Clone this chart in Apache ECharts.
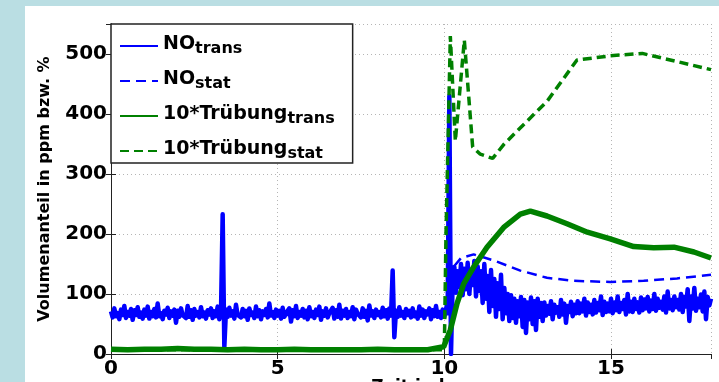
<!DOCTYPE html>
<html>
<head>
<meta charset="utf-8">
<script src="https://cdn.jsdelivr.net/npm/echarts@6/dist/echarts.min.js"></script>
<style>
  html, body { margin: 0; padding: 0; background: #badee3; }
  #panel { position: absolute; left: 25px; top: 6px; right: 0; bottom: 0; background: #fff; }
  #chart { position: absolute; left: 0; top: 0; width: 719px; height: 382px; }
</style>
</head>
<body>
<div id="panel"></div>
<div id="chart"></div>
<script>
// NO trans: one reading every 0.05 on the time axis, 20 readings per row
const NO_TRANS_STEP = 0.05;
const NO_TRANS = [
  71, 61, 76, 63, 68, 58, 74, 65, 80, 60, 70, 64, 75, 57, 73, 65, 78, 62, 69, 59,
  74, 64, 79, 59, 70, 63, 75, 61, 84, 63, 68, 58, 72, 66, 77, 60, 71, 64, 74, 52,
  72, 62, 76, 65, 68, 60, 80, 62, 73, 57, 75, 64, 70, 61, 78, 63, 69, 59, 73, 66,
  76, 60, 71, 63, 79, 58, 70, 233, 12, 74, 62, 77, 64, 71, 59, 82, 65, 68, 61, 75,
  63, 72, 57, 76, 65, 69, 60, 79, 63, 73, 58, 71, 65, 75, 61, 84, 64, 70, 60, 74,
  64, 72, 59, 77, 62, 68, 66, 76, 54, 73, 63, 80, 60, 70, 64, 75, 61, 72, 58, 78,
  63, 70, 60, 74, 65, 79, 57, 71, 64, 76, 61, 68, 66, 77, 59, 73, 62, 82, 59, 72,
  64, 75, 60, 70, 63, 78, 58, 74, 67, 69, 61, 76, 62, 72, 56, 81, 64, 71, 60, 74,
  65, 70, 61, 77, 63, 73, 59, 76, 64, 139, 28, 72, 62, 78, 64, 70, 60, 75, 65, 72,
  61, 76, 63, 69, 59, 79, 64, 74, 60, 71, 66, 76, 58, 73, 63, 80, 62, 70, 60, 74,
  62, 75, 68, 430, 0, 120, 145, 102, 138, 112, 150, 98, 142, 108, 152, 100, 140, 115, 155, 96,
  146, 105, 138, 85, 150, 92, 130, 70, 140, 80, 125, 62, 118, 75, 132, 58, 110, 68, 100, 55,
  98, 60, 92, 52, 88, 63, 95, 45, 90, 35, 86, 58, 94, 50, 88, 40, 92, 62, 85, 55,
  86, 64, 80, 67, 88, 58, 82, 69, 78, 62, 90, 66, 84, 52, 80, 70, 87, 63, 82, 68,
  88, 68, 84, 71, 92, 64, 86, 70, 82, 66, 90, 69, 85, 73, 96, 65, 87, 70, 84, 71,
  92, 68, 86, 73, 96, 70, 85, 75, 90, 66, 100, 71, 87, 70, 92, 75, 86, 69, 94, 73,
  91, 76, 95, 71, 89, 75, 100, 72, 92, 77, 87, 74, 96, 69, 104, 76, 90, 73, 96, 78,
  90, 74, 100, 70, 95, 79, 108, 55, 96, 76, 110, 72, 92, 78, 99, 71, 104, 58, 95, 81,
  92
];

const NO_STAT_T = [0, 10.0, 10.2, 10.5, 10.88, 11.48, 12.28, 13.08, 13.88, 14.98, 15.98, 16.98, 18];
const NO_STAT_V = [65, 65, 140, 160, 166, 156, 139, 127, 122, 120, 122, 126, 132];

const TR_TRANS_T = [0, 0.5, 1, 1.5, 2, 2.5, 3, 3.5, 4, 4.5, 5, 5.5, 6, 6.5, 7, 7.5, 8, 8.5, 9, 9.5,
  9.98, 10.18, 10.38, 10.58, 10.88, 11.28, 11.78, 12.28, 12.58, 13.08, 13.68, 14.29, 14.98, 15.68, 16.28, 16.89, 17.49, 18];
const TR_TRANS_V = [8, 7, 8, 8, 9, 8, 8, 7, 8, 7, 7, 8, 7, 7, 7, 7, 8, 7, 7, 7,
  12, 40, 84, 117, 145, 178, 211, 233, 238, 230, 217, 203, 192, 179, 177, 178, 170, 160];

const TR_STAT_T = [0, 10.0, 10.05, 10.18, 10.33, 10.6, 10.85, 11.08, 11.45, 11.78, 12.48, 13.08, 13.98, 14.98, 15.94, 18];
const TR_STAT_V = [7, 7, 200, 530, 355, 523, 345, 333, 326, 349, 388, 421, 490, 497, 501, 474];

const LABELS = {
  NO_trans: '{m|NO}{s|trans}',
  NO_stat: '{m|NO}{s|stat}',
  TR_trans: '{m|10*Trübung}{s|trans}',
  TR_stat: '{m|10*Trübung}{s|stat}'
};

const pairs = (t, v) => t.map((x, i) => [x, v[i]]);
const noTrans = NO_TRANS.map((v, i) => [+(i * NO_TRANS_STEP).toFixed(2), v]);

const chart = echarts.init(document.getElementById('chart'));
const font = 'DejaVu Sans, sans-serif';
const gridLine = { show: true, lineStyle: { color: '#b5b5b5', type: [1, 3], width: 1 } };
const axisLine = { show: true, lineStyle: { color: '#222', width: 1 } };
const tick = { show: true, inside: true, length: 5, lineStyle: { color: '#222' } };

chart.setOption({
  backgroundColor: 'transparent',
  animation: false,
  grid: { left: 111, top: 24, right: 8, bottom: 28, outerBoundsMode: 'none', containLabel: false },
  legend: {
    orient: 'vertical',
    left: 111, top: 24,
    padding: [5, 18, 1, 8],
    itemGap: 7,
    itemWidth: 38,
    itemHeight: 14,
    backgroundColor: '#fff',
    borderColor: '#222',
    borderWidth: 1.5,
    borderRadius: 0,
    itemStyle: { opacity: 0 },
    lineStyle: { width: 2 },
    formatter: n => LABELS[n],
    textStyle: {
      rich: {
        m: { fontSize: 19, fontWeight: 'bold', fontFamily: font, color: '#000', lineHeight: 22, verticalAlign: 'top' },
        s: { fontSize: 16, fontWeight: 'bold', fontFamily: font, color: '#000', lineHeight: 17, verticalAlign: 'bottom', padding: [12, 0, 0, 0] }
      }
    },
    data: ['NO_trans', 'NO_stat', 'TR_trans', 'TR_stat']
  },
  xAxis: [{
    type: 'value', min: 0, max: 18, interval: 5,
    axisLine, axisTick: tick, splitLine: gridLine,
    axisLabel: { showMaxLabel: false, fontSize: 20, fontWeight: 'bold', color: '#000', fontFamily: font, margin: 5 },
    name: 'Zeit in h', nameLocation: 'middle', nameGap: 25, nameMoveOverlap: false,
    nameTextStyle: { fontSize: 17, fontWeight: 'bold', color: '#000', fontFamily: font, verticalAlign: 'top' }
  }, {
    type: 'value', min: 0, max: 18, interval: 5, position: 'top',
    axisLine, axisTick: tick, splitLine: { show: false }, axisLabel: { show: false }
  }],
  yAxis: [{
    type: 'value', min: 0, max: 550, interval: 100,
    axisLine, axisTick: tick, splitLine: gridLine,
    axisLabel: { showMaxLabel: false, fontSize: 20, fontWeight: 'bold', color: '#000', fontFamily: font, margin: 4 },
    name: 'Volumenanteil in ppm bzw. %', nameLocation: 'middle', nameGap: 58,
    nameTextStyle: { fontSize: 16, fontWeight: 'bold', color: '#000', fontFamily: font }
  }, {
    type: 'value', min: 0, max: 550, interval: 100, position: 'right',
    axisLine, axisTick: tick, splitLine: { show: false }, axisLabel: { show: false }
  }],
  series: [
    { name: 'NO_trans', type: 'line', data: noTrans, symbol: 'none', color: '#0000ff',
      lineStyle: { width: 4.5, color: '#0000ff', join: 'round' } },
    { name: 'NO_stat', type: 'line', data: pairs(NO_STAT_T, NO_STAT_V), symbol: 'none', color: '#0000ff',
      lineStyle: { width: 2.5, color: '#0000ff', type: [10, 6] } },
    { name: 'TR_trans', type: 'line', data: pairs(TR_TRANS_T, TR_TRANS_V), symbol: 'none', color: '#008000',
      lineStyle: { width: 5.5, color: '#008000' } },
    { name: 'TR_stat', type: 'line', data: pairs(TR_STAT_T, TR_STAT_V), symbol: 'none', color: '#008000',
      lineStyle: { width: 3.5, color: '#008000', type: [9, 5] } }
  ]
});
</script>
</body>
</html>
